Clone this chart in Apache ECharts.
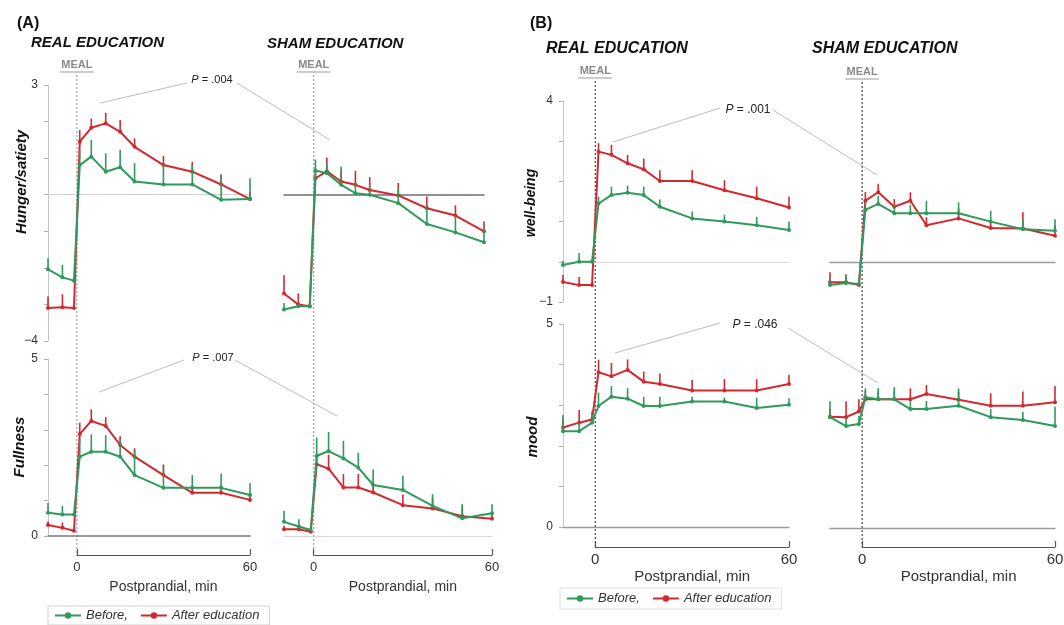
<!DOCTYPE html>
<html><head><meta charset="utf-8">
<script src="https://cdn.jsdelivr.net/npm/echarts@6/dist/echarts.min.js"></script>
<style>html,body{margin:0;padding:0;background:#fff}#c{width:1064px;height:625px}</style>
</head><body><div id="c"></div>
<script>
// ---- data ----
const times = [-10, -5, -1, 1, 5, 10, 15, 20, 30, 40, 50, 60];
const bracketTicks = [0, 60];
const seriesNames = ['Before,', 'After education'];

const hungerRealBefore    = [-2.04, -2.26, -2.35, 0.81, 1.04, 0.63, 0.75, 0.36, 0.28, 0.28, -0.14, -0.12];
const hungerRealBeforeErr = [0.30, 0.34, 0.00, 0.40, 0.46, 0.50, 0.48, 0.50, 0.60, 0.54, 0.68, 0.57];
const hungerRealAfter     = [-3.10, -3.08, -3.10, 1.45, 1.83, 1.95, 1.72, 1.31, 0.81, 0.63, 0.28, -0.12];
const hungerRealAfterErr  = [0.32, 0.36, 0.00, 0.32, 0.25, 0.29, 0.32, 0.23, 0.25, 0.27, 0.28, 0.20];

const hungerShamBefore    = [-3.14, -3.05, -3.05, 0.66, 0.59, 0.27, 0.04, 0.00, -0.23, -0.80, -1.03, -1.30];
const hungerShamBeforeErr = [0.18, 0.05, 0.00, 0.30, 0.25, 0.50, 0.30, 0.30, 0.40, 0.50, 0.45, 0.40];
const hungerShamAfter     = [-2.70, -3.00, -3.05, 0.45, 0.64, 0.36, 0.27, 0.13, -0.02, -0.37, -0.57, -1.00];
const hungerShamAfterErr  = [0.50, 0.30, 0.00, 0.20, 0.38, 0.30, 0.38, 0.35, 0.34, 0.32, 0.28, 0.27];

const fullRealBefore      = [0.66, 0.61, 0.61, 2.24, 2.38, 2.38, 2.24, 1.72, 1.36, 1.36, 1.36, 1.16];
const fullRealBeforeErr   = [0.27, 0.24, 0.00, 0.50, 0.49, 0.47, 0.50, 0.70, 0.64, 0.36, 0.40, 0.33];
const fullRealAfter       = [0.31, 0.23, 0.15, 2.88, 3.25, 3.11, 2.57, 2.24, 1.72, 1.22, 1.22, 1.02];
const fullRealAfterErr    = [0.10, 0.15, 0.00, 0.32, 0.33, 0.25, 0.25, 0.24, 0.30, 0.20, 0.20, 0.10];

const fullShamBefore      = [0.40, 0.27, 0.17, 2.26, 2.40, 2.19, 1.93, 1.44, 1.30, 0.85, 0.50, 0.64];
const fullShamBeforeErr   = [0.31, 0.20, 0.00, 0.52, 0.54, 0.50, 0.42, 0.44, 0.40, 0.33, 0.40, 0.26];
const fullShamAfter       = [0.19, 0.19, 0.12, 2.03, 1.90, 1.37, 1.37, 1.23, 0.87, 0.78, 0.56, 0.49];
const fullShamAfterErr    = [0.10, 0.10, 0.00, 0.30, 0.40, 0.38, 0.38, 0.30, 0.30, 0.30, 0.30, 0.10];

const wellRealBefore      = [-0.08, 0.00, 0.00, 1.45, 1.66, 1.72, 1.66, 1.37, 1.08, 1.00, 0.91, 0.79];
const wellRealBeforeErr   = [0.10, 0.22, 0.00, 0.17, 0.21, 0.17, 0.21, 0.18, 0.17, 0.17, 0.21, 0.21];
const wellRealAfter       = [-0.50, -0.58, -0.58, 2.74, 2.66, 2.45, 2.30, 2.01, 2.01, 1.78, 1.58, 1.35];
const wellRealAfterErr    = [0.17, 0.20, 0.00, 0.21, 0.25, 0.21, 0.27, 0.27, 0.27, 0.25, 0.29, 0.27];

const wellShamBefore      = [-0.58, -0.53, -0.55, 1.29, 1.44, 1.21, 1.21, 1.21, 1.21, 1.00, 0.81, 0.77];
const wellShamBeforeErr   = [0.20, 0.20, 0.00, 0.20, 0.20, 0.20, 0.20, 0.31, 0.27, 0.27, 0.25, 0.29];
const wellShamAfter       = [-0.51, -0.51, -0.58, 1.52, 1.73, 1.37, 1.52, 0.91, 1.08, 0.84, 0.83, 0.65];
const wellShamAfterErr    = [0.25, 0.20, 0.00, 0.22, 0.21, 0.19, 0.21, 0.20, 0.25, 0.20, 0.40, 0.25];

const moodRealBefore      = [2.36, 2.36, 2.57, 2.98, 3.21, 3.16, 2.98, 2.98, 3.09, 3.09, 2.93, 3.01];
const moodRealBeforeErr   = [0.40, 0.20, 0.20, 0.33, 0.26, 0.26, 0.23, 0.23, 0.12, 0.10, 0.25, 0.16];
const moodRealAfter       = [2.45, 2.57, 2.65, 3.81, 3.71, 3.87, 3.58, 3.52, 3.36, 3.36, 3.36, 3.52];
const moodRealAfterErr    = [0.20, 0.31, 0.20, 0.31, 0.33, 0.26, 0.25, 0.26, 0.26, 0.28, 0.28, 0.23];

const moodShamBefore      = [2.73, 2.51, 2.56, 3.22, 3.17, 3.17, 2.93, 2.93, 3.01, 2.73, 2.66, 2.51];
const moodShamBeforeErr   = [0.39, 0.20, 0.20, 0.22, 0.27, 0.30, 0.20, 0.20, 0.43, 0.20, 0.20, 0.48];
const moodShamAfter       = [2.74, 2.73, 2.87, 3.17, 3.17, 3.17, 3.17, 3.30, 3.16, 3.01, 3.01, 3.10];
const moodShamAfterErr    = [0.20, 0.39, 0.30, 0.20, 0.20, 0.20, 0.27, 0.22, 0.20, 0.31, 0.35, 0.40];

// ---- styling / layout ----
const GREEN = '#2e9a5c', RED = '#d2282e';
const FONT = '"Liberation Sans", Arial, Helvetica, sans-serif';
const MINUS = '\u2212';

const panels = [
  {grid:{left:48, top:85, width:202, height:256}, y:[-4,3], showY:true, zero:{color:'#cfcfcf', width:1},
   b:hungerRealBefore, be:hungerRealBeforeErr, a:hungerRealAfter, ae:hungerRealAfterErr},
  {grid:{left:284, top:85, width:200, height:256}, y:[-4,3], showY:false, zero:{color:'#6e6e6e', width:1.6},
   b:hungerShamBefore, be:hungerShamBeforeErr, a:hungerShamAfter, ae:hungerShamAfterErr},
  {grid:{left:48, top:359, width:202, height:177}, y:[0,5], showY:true, zero:{color:'#7a7a7a', width:1.6},
   b:fullRealBefore, be:fullRealBeforeErr, a:fullRealAfter, ae:fullRealAfterErr},
  {grid:{left:284, top:359, width:208, height:177}, y:[0,5], showY:false, zero:{color:'#d6d6d6', width:1},
   b:fullShamBefore, be:fullShamBeforeErr, a:fullShamAfter, ae:fullShamAfterErr},
  {grid:{left:563, top:101, width:226, height:201}, y:[-1,4], showY:true, zero:{color:'#dadada', width:1},
   b:wellRealBefore, be:wellRealBeforeErr, a:wellRealAfter, ae:wellRealAfterErr},
  {grid:{left:830, top:101, width:225, height:201}, y:[-1,4], showY:false, zero:{color:'#9a9a9a', width:1.3},
   b:wellShamBefore, be:wellShamBeforeErr, a:wellShamAfter, ae:wellShamAfterErr},
  {grid:{left:563, top:324, width:226, height:203}, y:[0,5], showY:true, zero:{color:'#9a9a9a', width:1.3},
   b:moodRealBefore, be:moodRealBeforeErr, a:moodRealAfter, ae:moodRealAfterErr},
  {grid:{left:830, top:325, width:225, height:203}, y:[0,5], showY:false, zero:{color:'#9a9a9a', width:1.3},
   b:moodShamBefore, be:moodShamBeforeErr, a:moodShamAfter, ae:moodShamAfterErr}
];
// bracket axes under the bottom panels: [dataGridIndex, top, labelSize, nameSize, labelMargin, nameGap]
const brackets = [
  {ref:2, top:548, ls:13, ns:14, lm:6, ng:25},
  {ref:3, top:548, ls:13, ns:14, lm:6, ng:25},
  {ref:6, top:540, ls:15, ns:15, lm:5, ng:22},
  {ref:7, top:540, ls:15, ns:15, lm:5, ng:22}
];

const grids = [], xAxes = [], yAxes = [], series = [];
function fmtNum(v){ return v < 0 ? MINUS + Math.abs(v) : String(v); }

function errSeries(gi, vals, errs, color, z){
  return {
    type:'custom', name:'err', xAxisIndex:gi, yAxisIndex:gi, silent:true, z:z,
    data: times.map((t,k)=>[t, vals[k], errs[k]]),
    renderItem: function(params, api){
      const x = api.value(0), y = api.value(1), e = api.value(2);
      const p0 = api.coord([x, y]), p1 = api.coord([x, y + e]);
      return {type:'line', shape:{x1:p0[0], y1:p0[1], x2:p1[0], y2:p1[1]},
              style:{stroke:color, lineWidth:1.6}};
    },
    animation:false
  };
}
function lineSeries(gi, name, vals, color, z){
  return {
    type:'line', name:name, xAxisIndex:gi, yAxisIndex:gi, z:z,
    data: times.map((t,k)=>[t, vals[k]]),
    symbol:'circle', symbolSize:4, showSymbol:true,
    lineStyle:{width:2, color:color}, itemStyle:{color:color},
    emphasis:{disabled:true}, animation:false
  };
}

panels.forEach((p, gi)=>{
  grids.push(Object.assign({outerBoundsMode:'none', containLabel:false}, p.grid));
  xAxes.push({
    gridIndex:gi, type:'value', min:-10, max:60,
    axisLine:{show:true, onZero:true, lineStyle:{color:p.zero.color, width:p.zero.width}},
    axisTick:{show:false}, axisLabel:{show:false}, splitLine:{show:false}
  });
  const ymin = p.y[0], ymax = p.y[1];
  yAxes.push({
    gridIndex:gi, type:'value', min:ymin, max:ymax, interval:1, show:p.showY,
    axisLine:{show:true, onZero:false, lineStyle:{color:'#c4c4c4', width:1}},
    axisTick:{show:true, length:4, lineStyle:{color:'#b0b0b0'}},
    axisLabel:{show:true, margin:10, fontSize:12, color:'#333', fontFamily:FONT,
      formatter: v => (v === ymin || v === ymax) ? fmtNum(v) : ''},
    splitLine:{show:false}
  });
  series.push(errSeries(gi, p.a, p.ae, RED, 2));
  series.push(lineSeries(gi, seriesNames[1], p.a, RED, 3));
  series.push(errSeries(gi, p.b, p.be, GREEN, 4));
  series.push(lineSeries(gi, seriesNames[0], p.b, GREEN, 5));
});

// bracket grids placed from the data grids' own scale
function xPix(g, v){ return g.left + (v - (-10)) / 70 * g.width; }
brackets.forEach((b, k)=>{
  const gi = panels.length + k;
  const g = panels[b.ref].grid;
  const l = xPix(g, bracketTicks[0]), r = xPix(g, bracketTicks[1]);
  grids.push({outerBoundsMode:'none', containLabel:false, left:l, width:r - l, top:b.top, height:7});
  xAxes.push({
    gridIndex:gi, type:'value', min:bracketTicks[0], max:bracketTicks[1], interval:60, position:'bottom',
    axisLine:{show:true, onZero:false, lineStyle:{color:'#555', width:1.2}},
    axisTick:{show:true, inside:true, length:6, lineStyle:{color:'#555', width:1.2}},
    axisLabel:{show:true, fontSize:b.ls, color:'#333', margin:b.lm, fontFamily:FONT},
    splitLine:{show:false},
    name:'Postprandial, min', nameLocation:'middle', nameGap:b.ng,
    nameTextStyle:{fontSize:b.ns, color:'#333', fontFamily:FONT}
  });
  yAxes.push({gridIndex:gi, type:'value', min:0, max:1, show:false});
});

const chart = echarts.init(document.getElementById('c'), null, {renderer:'canvas'});
chart.setOption({
  animation:false,
  backgroundColor:'#fff',
  textStyle:{fontFamily:FONT},
  grid:grids, xAxis:xAxes, yAxis:yAxes, series:series,
  legend:[
    {data:seriesNames, left:48, top:606, orient:'horizontal', itemWidth:26, itemHeight:8, itemGap:12,
     borderColor:'#d0d0d0', borderWidth:1, padding:[3,10,3,6],
     textStyle:{fontStyle:'italic', fontSize:13, color:'#333', fontFamily:FONT}},
    {data:seriesNames, left:560, top:588, orient:'horizontal', itemWidth:26, itemHeight:8, itemGap:12,
     borderColor:'#e0e0e0', borderWidth:1, padding:[4,10,4,6],
     textStyle:{fontStyle:'italic', fontSize:13, color:'#333', fontFamily:FONT}}
  ]
});

// ---- annotations ----
const G = [];
function txt(x, y, s, o){
  G.push({type:'text', x:x, y:y, rotation:(o&&o.rot)||0, silent:true,
    style:Object.assign({text:s, fill:'#111', font:(o&&o.font)||('12px '+FONT),
      align:(o&&o.align)||'left', verticalAlign:'middle'}, (o&&o.extra)||{})});
}
function ln(x1,y1,x2,y2,color,w,dash){
  G.push({type:'line', silent:true, shape:{x1,y1,x2,y2},
    style:{stroke:color, lineWidth:w, lineDash:dash||null}});
}
// panel titles
txt(17, 24, '(A)', {font:'bold 16px '+FONT});
txt(31, 43, 'REAL EDUCATION', {font:'italic bold 15px '+FONT});
txt(267, 44, 'SHAM EDUCATION', {font:'italic bold 15px '+FONT});
txt(530, 24, '(B)', {font:'bold 16px '+FONT});
txt(546, 49, 'REAL EDUCATION', {font:'italic bold 16px '+FONT});
txt(812, 49, 'SHAM EDUCATION', {font:'italic bold 16px '+FONT});
// y names
txt(22, 182, 'Hunger/satiety', {font:'italic bold 15px '+FONT, align:'center', rot:Math.PI/2});
txt(20, 447, 'Fullness', {font:'italic bold 15px '+FONT, align:'center', rot:Math.PI/2});
txt(531, 203, 'well-being', {font:'italic bold 14px '+FONT, align:'center', rot:Math.PI/2});
txt(533, 437, 'mood', {font:'italic bold 15px '+FONT, align:'center', rot:Math.PI/2});

// MEAL markers + dashed lines, positioned from each column's x = 0
const mealCols = [
  {top:0, bottom:2, y0:75, y1:555, textY:65, color:'#8fa0b6', lab:'#8a8a8a'},
  {top:1, bottom:3, y0:75, y1:555, textY:65, color:'#8fa0b6', lab:'#8a8a8a'},
  {top:4, bottom:6, y0:81, y1:547, textY:71, color:'#444', lab:'#8a8a8a'},
  {top:5, bottom:7, y0:82, y1:547, textY:72, color:'#444', lab:'#8a8a8a'}
];
mealCols.forEach(c=>{
  const x = chart.convertToPixel({gridIndex:c.bottom}, [0, 0])[0];
  ln(x, c.y0, x, c.y1, c.color, 1.2, [2,2]);
  txt(x, c.textY, 'MEAL', {font:'bold 11px '+FONT, align:'center', extra:{fill:c.lab}});
  ln(x - 17, c.textY + 7, x + 17, c.textY + 7, '#9a9a9a', 1.2);
});

// P-value connectors
function pval(cx, cy, s, size, l1, l2){
  G.push({type:'text', x:cx, y:cy, silent:true, style:{
    text:'{i|P} = ' + s, align:'center', verticalAlign:'middle', fill:'#222',
    font: size + 'px ' + FONT,
    rich:{i:{fontStyle:'italic', fontSize:size, fontFamily:FONT, fill:'#222'}}
  }});
  ln(l1[0], l1[1], l1[2], l1[3], '#bdbdbd', 1);
  ln(l2[0], l2[1], l2[2], l2[3], '#bdbdbd', 1);
}
pval(212, 80, '.004', 11, [100,103,187,83], [237,83,330,140]);
pval(213, 358, '.007', 11, [99,392,184,360], [235,360,337,416]);
pval(748, 110, '.001', 12, [613,142,720,108], [773,110,877,175]);
pval(755, 325, '.046', 12, [615,353,720,323], [788,328,878,383]);

chart.setOption({graphic:G});
</script></body></html>
